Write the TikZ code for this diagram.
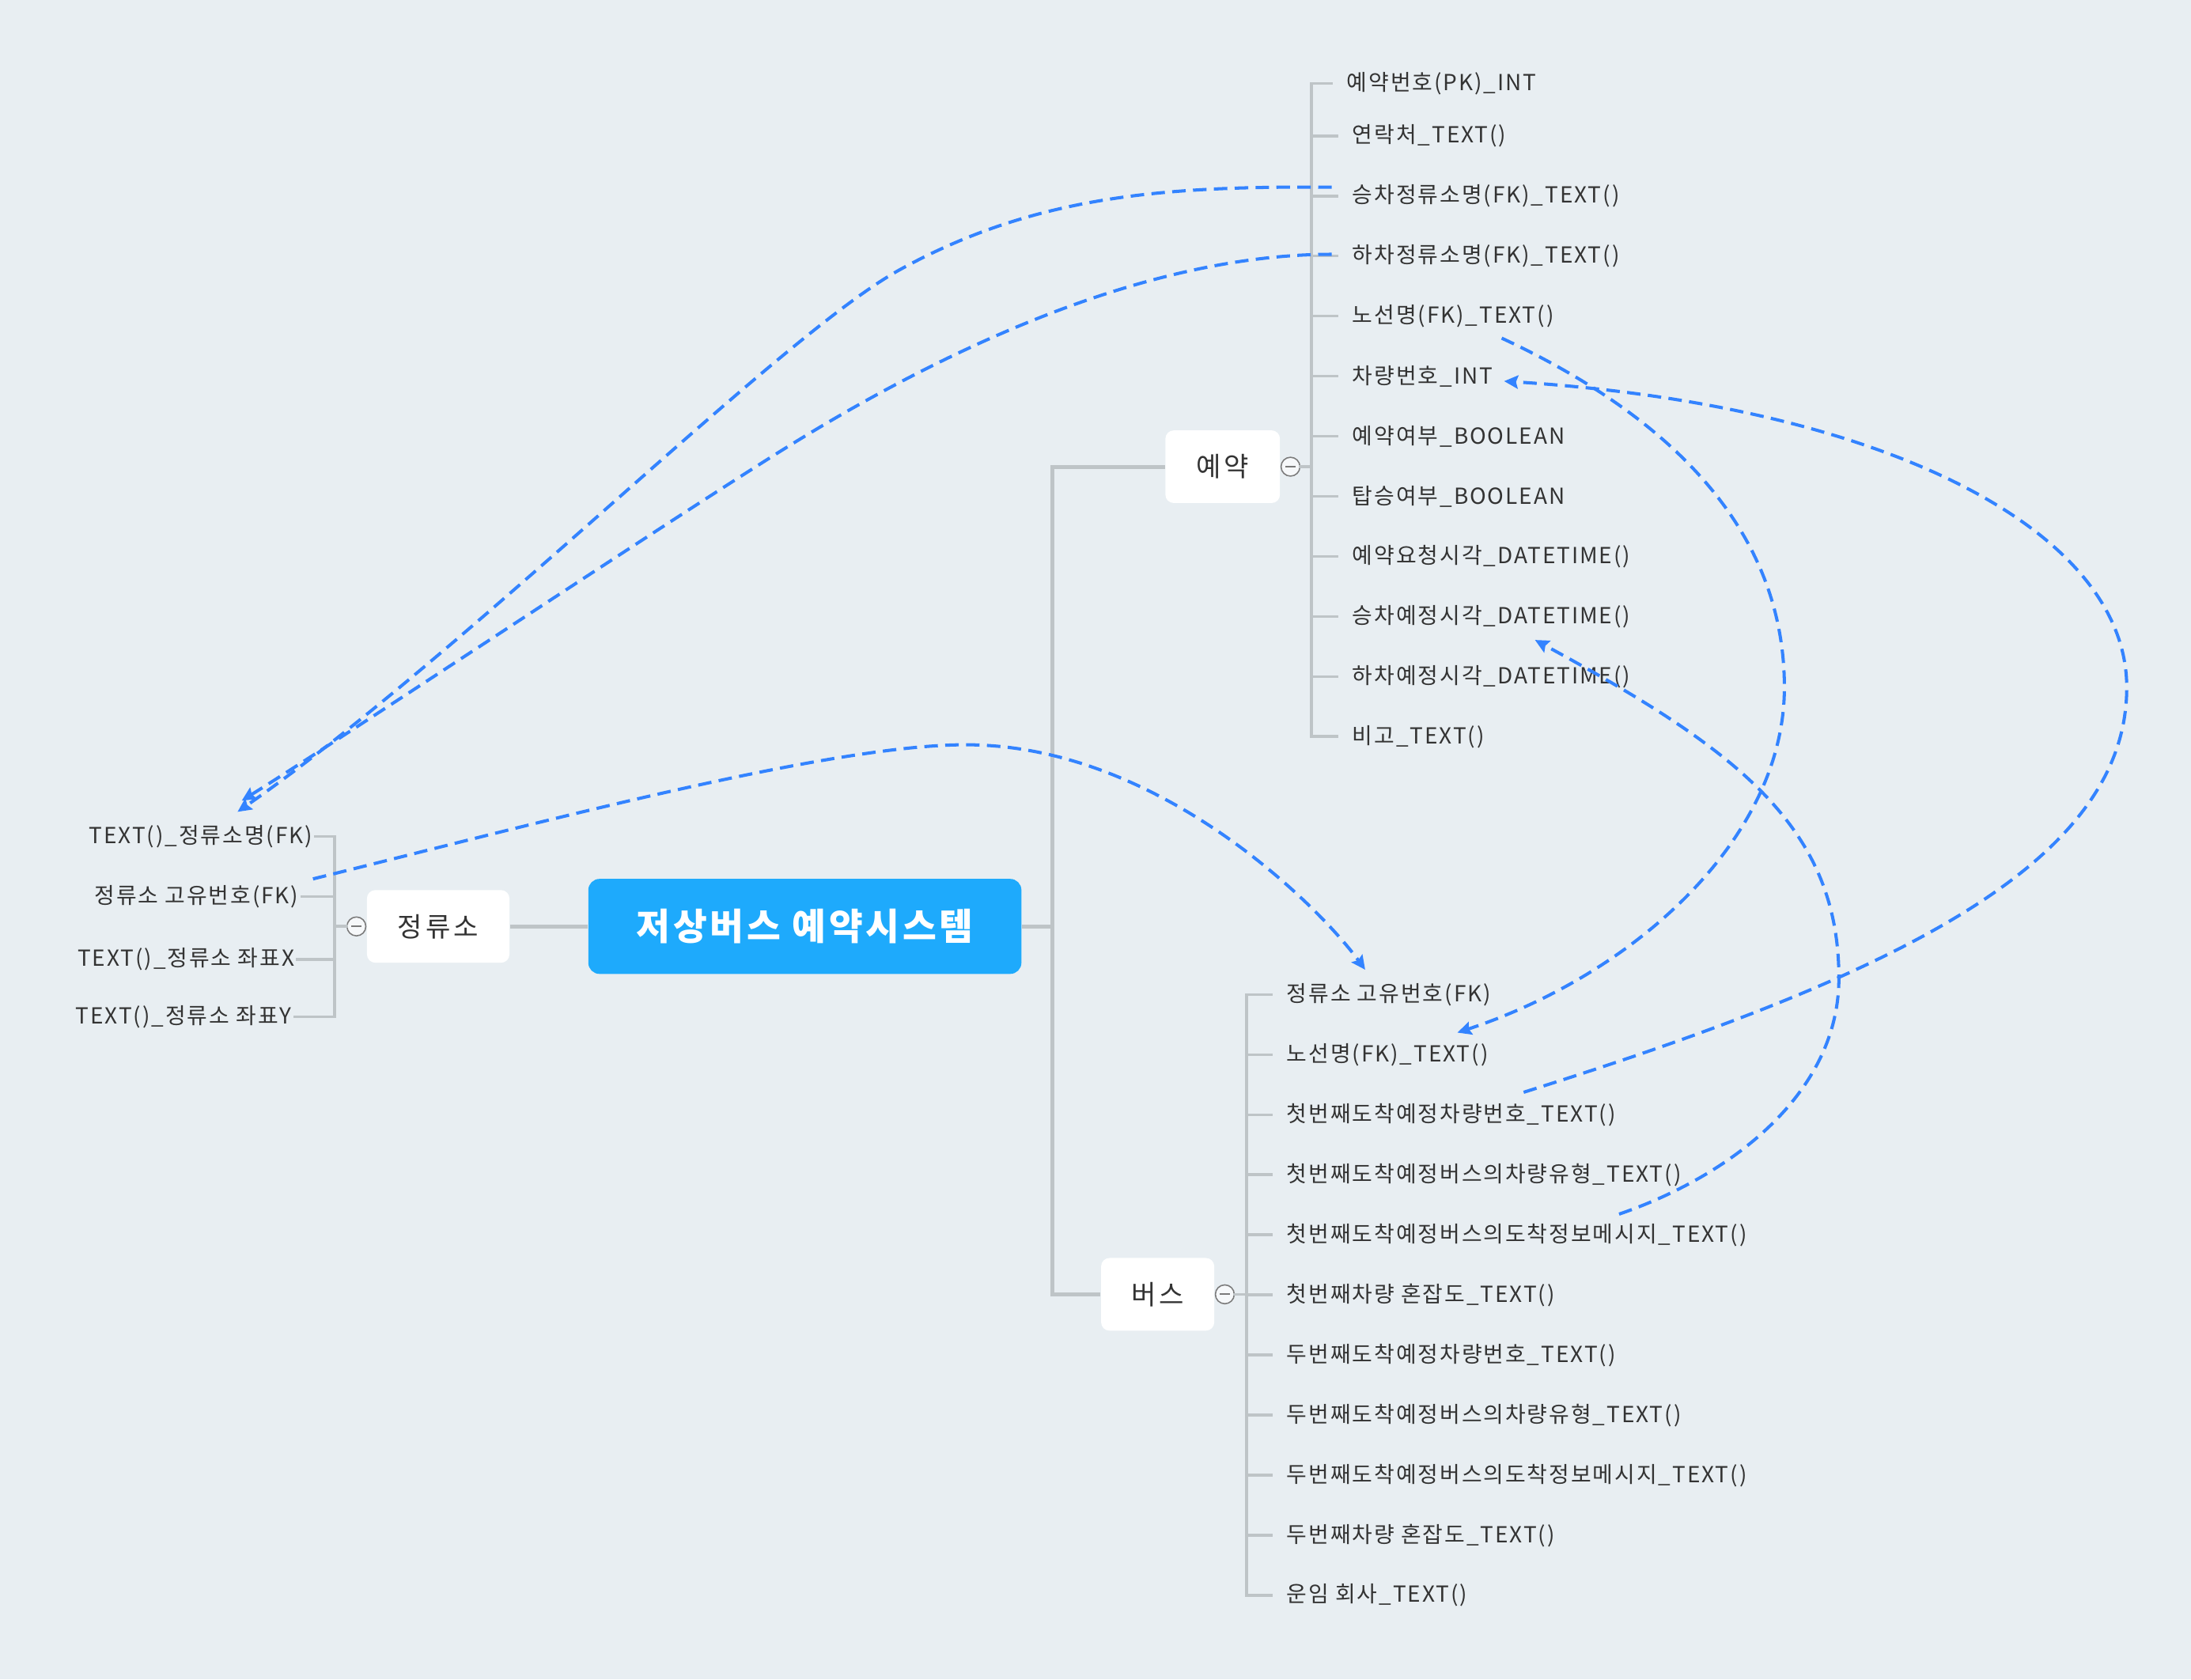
\documentclass[tikz,border=0pt]{standalone}
\usepackage{fontspec}
\setmainfont{Noto Sans CJK KR}
\usetikzlibrary{calc}
\usetikzlibrary{positioning}
\usetikzlibrary{arrows.meta}

\definecolor{bgcol}{HTML}{E8EEF2}
\definecolor{topiccol}{HTML}{1EAAFC}
\definecolor{linecol}{HTML}{BEC4C7}
\definecolor{relcol}{HTML}{3383FF}
\definecolor{txtcol}{HTML}{333333}
\definecolor{foldcol}{HTML}{7A7A7A}

\tikzset{
  topic/.style={rectangle,rounded corners=1.6mm,fill=topiccol,text=white,
    minimum width=6.2cm,minimum height=1.36cm,
    font=\fontsize{15}{18}\selectfont\bfseries\addfontfeatures{LetterSpace=8}},
  subtopic/.style={rectangle,rounded corners=1.2mm,fill=white,text=txtcol,
    minimum height=1.04cm,
    font=\fontsize{11}{13}\selectfont\addfontfeatures{LetterSpace=12}},
  attr/.style={inner sep=0pt,text=txtcol,
    font=\fontsize{9}{11}\selectfont\addfontfeatures{LetterSpace=7}},
  fold/.style={circle,draw=foldcol,fill=white!60!bgcol,line width=0.5pt,
    minimum size=0.27cm,inner sep=0pt},
  trunk/.style={draw=linecol,line width=1.6pt},
  twig/.style={draw=linecol,line width=1.2pt,line cap=rect},
  rel/.style={draw=relcol,line width=1.3pt,dash pattern=on 5.5pt off 3pt,
    -{Stealth[length=2mm,width=1.9mm,inset=0.3mm]}},
}

\begin{document}
\begin{tikzpicture}[x=0.02cm,y=-0.02cm]
  % background
  \fill[bgcol] (0,0) rectangle (1568,1202);
  \useasboundingbox (0,0) rectangle (1568,1202);

  % topics
  \node[topic] (main) at (576,663) {저상버스 예약시스템};
  \node[subtopic,minimum width=2.04cm] (stop) at (313.6,663) {정류소};
  \node[subtopic,minimum width=1.64cm] (resv) at (875,334) {예약};
  \node[subtopic,minimum width=1.62cm] (bus) at (828.5,926.3) {버스};

  % fold marks
  \node[fold,anchor=east] (stopf) at (stop.west) {};
  \node[fold,anchor=west] (resvf) at (resv.east) {};
  \node[fold,anchor=west] (busf) at (bus.east) {};
  \foreach \f in {stopf,resvf,busf}
    \draw[foldcol,line width=0.6pt] ($(\f.center)+(-3.5,0)$) -- ($(\f.center)+(3.5,0)$);

  % 예약 fields
  \node[attr,anchor=west] (r1) at (963.6,59.8) {예약번호(PK)\_INT};
  \node[attr,anchor=west] (r2) at (967.5,97.2) {연락처\_TEXT()};
  \node[attr,anchor=west] (r3) at (967.5,140.2) {승차정류소명(FK)\_TEXT()};
  \node[attr,anchor=west] (r4) at (967.5,183.2) {하차정류소명(FK)\_TEXT()};
  \node[attr,anchor=west] (r5) at (967.5,226.2) {노선명(FK)\_TEXT()};
  \node[attr,anchor=west] (r6) at (967.5,269.2) {차량번호\_INT};
  \node[attr,anchor=west] (r7) at (967.5,312.2) {예약여부\_BOOLEAN};
  \node[attr,anchor=west] (r8) at (967.5,355.2) {탑승여부\_BOOLEAN};
  \node[attr,anchor=west] (r9) at (967.5,398.2) {예약요청시각\_DATETIME()};
  \node[attr,anchor=west] (r10) at (967.5,441.2) {승차예정시각\_DATETIME()};
  \node[attr,anchor=west] (r11) at (967.5,484.2) {하차예정시각\_DATETIME()};
  \node[attr,anchor=west] (r12) at (967.5,527.2) {비고\_TEXT()};

  % 버스 fields
  \node[attr,anchor=west] (b1) at (920.5,711.8) {정류소 고유번호(FK)};
  \node[attr,anchor=west] (b2) at (920.5,754.8) {노선명(FK)\_TEXT()};
  \node[attr,anchor=west] (b3) at (920.5,797.8) {첫번째도착예정차량번호\_TEXT()};
  \node[attr,anchor=west] (b4) at (920.5,840.8) {첫번째도착예정버스의차량유형\_TEXT()};
  \node[attr,anchor=west] (b5) at (920.5,883.8) {첫번째도착예정버스의도착정보메시지\_TEXT()};
  \node[attr,anchor=west] (b6) at (920.5,926.8) {첫번째차량 혼잡도\_TEXT()};
  \node[attr,anchor=west] (b7) at (920.5,969.8) {두번째도착예정차량번호\_TEXT()};
  \node[attr,anchor=west] (b8) at (920.5,1012.8) {두번째도착예정버스의차량유형\_TEXT()};
  \node[attr,anchor=west] (b9) at (920.5,1055.8) {두번째도착예정버스의도착정보메시지\_TEXT()};
  \node[attr,anchor=west] (b10) at (920.5,1098.8) {두번째차량 혼잡도\_TEXT()};
  \node[attr,anchor=west] (b11) at (920.5,1141.8) {운임 회사\_TEXT()};

  % 정류소 fields
  \node[attr,anchor=east] (s1) at (224,598.6) {TEXT()\_정류소명(FK)};
  \node[attr,anchor=east] (s2) at (214,641.7) {정류소 고유번호(FK)};
  \node[attr,anchor=east] (s3) at (211,686.7) {TEXT()\_정류소 좌표X};
  \node[attr,anchor=east] (s4) at (209,727.6) {TEXT()\_정류소 좌표Y};

  % trunk lines
  \coordinate (hub) at (753,663);
  \draw[trunk] (main.west) -- (stop.east);
  \draw[trunk] (main.east) -- (hub);
  \draw[trunk] (resv.west) -| (hub) |- (bus.west);

  % brackets
  \coordinate (rtop) at (938.5,59.8);
  \coordinate (rbot) at (938.5,527.2);
  \coordinate (btop) at (892,711.8);
  \coordinate (bbot) at (892,1141.8);
  \coordinate (stop top) at (239.5,598.6);
  \coordinate (sbot) at (239.5,727.6);
  \draw[twig] (rtop) -- (rbot);
  \draw[twig] (btop) -- (bbot);
  \draw[twig] (stop top) -- (sbot);
  \draw[twig] (resvf.east) -- (resvf.east -| rtop);
  \draw[twig] (busf.east) -- (busf.east -| btop);
  \draw[twig] (stopf.west) -- (stopf.west -| stop top);
  \foreach \i in {1,...,12}
    \draw[twig] (r\i.west -| rtop) -- ($(r\i.west)+(-11,0)$);
  \foreach \i in {1,...,11}
    \draw[twig] (b\i.west -| btop) -- ($(b\i.west)+(-11,0)$);
  \foreach \i in {1,...,4}
    \draw[twig] (s\i.east -| stop top) -- ($(s\i.east)+(2,0)$);

  % relations
  \draw[rel] ([shift={(-14.5,-6.2)}]r3.west) .. controls (833,133) and (740.4,140)
    .. (644,193) .. controls (556.4,241.2) and (334,467) .. ([shift={(-54,-17.6)}]s1.east);
  \draw[rel] ([shift={(-14.5,-1.2)}]r4.west) .. controls (803,182) and (645,269)
    .. (560,322) .. controls (475,375) and (249.5,525.3) .. ([shift={(-51,-25.6)}]s1.east);
  \draw[rel] ([shift={(10,-12.7)}]s2.east) .. controls (374,592) and (591,533)
    .. (691,533) .. controls (830,533) and (945,650) .. ([shift={(56.5,-17.8)}]b1.west);
  \draw[rel] ([shift={(107.2,15.8)}]r5.west) .. controls (1210,305) and (1277,390)
    .. (1277,492) .. controls (1277,600) and (1170,697) .. ([shift={(122.5,-15.8)}]b2.west);
  \draw[rel] ([shift={(169.9,-16.1)}]b3.west) .. controls (1350,700) and (1522,620)
    .. (1522,492) .. controls (1522,380) and (1350,290) .. ([shift={(108.9,3.6)}]r6.west);
  \draw[rel] ([shift={(238.2,-14.9)}]b5.west) .. controls (1242.7,840) and (1316,780)
    .. (1316,700) .. controls (1316,590) and (1240,535) .. ([shift={(131,16.8)}]r10.west);
\end{tikzpicture}
\end{document}
